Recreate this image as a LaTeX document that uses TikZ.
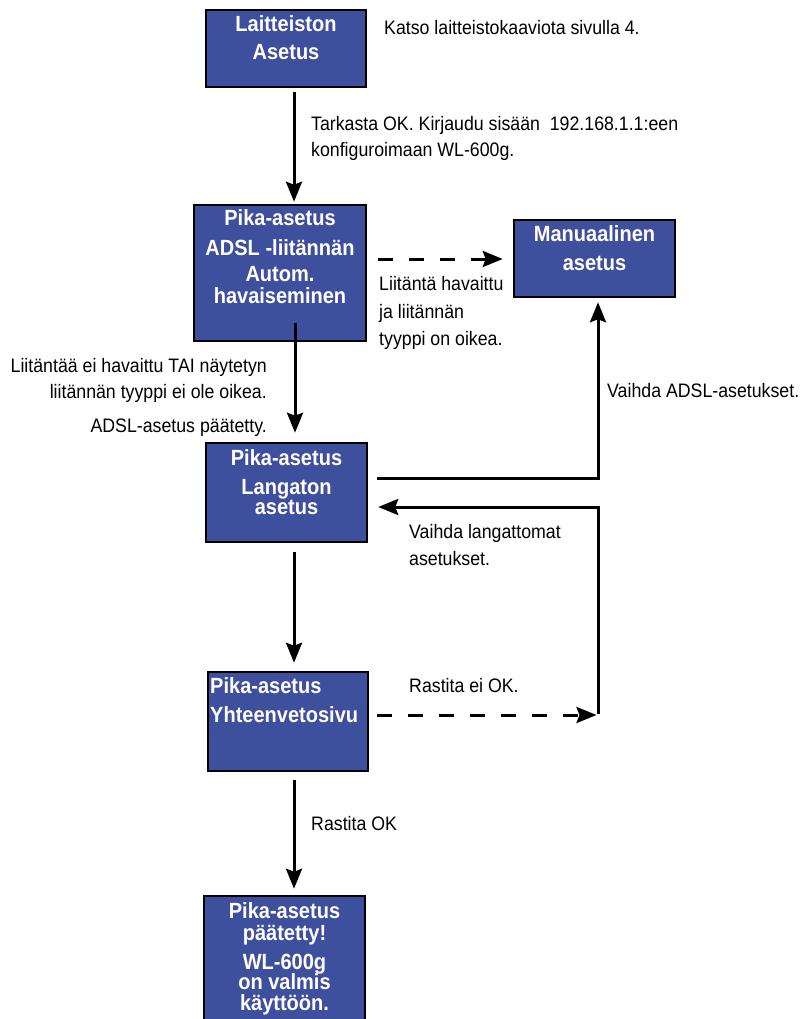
\documentclass[tikz,border=0pt]{standalone}
\usepackage{fontspec}
\setmainfont{Liberation Sans}[FakeStretch=0.91]
\usetikzlibrary{arrows.meta}
\definecolor{boxblue}{RGB}{62,79,158}
\begin{document}
\begin{tikzpicture}[x=1pt,y=-1pt,
  box/.style={draw=black, line width=2.5pt, fill=boxblue, inner sep=0pt},
  boxlbl/.style={text=white, font=\fontsize{22}{26}\selectfont\bfseries, inner sep=0pt, anchor=base},
  note/.style={font=\fontsize{19.5}{26}\selectfont, inner sep=0pt, anchor=base west},
  noter/.style={note, anchor=base east},
  arr/.style={line width=3pt, -{Stealth[length=20pt,width=16pt,inset=3pt]}},
  darr/.style={arr, dash pattern=on 15pt off 16pt},
  plain/.style={line width=3pt}]
\useasboundingbox (0,0) rectangle (804,1019);

% boxes
\node[box, minimum width=160pt, minimum height=77pt] (b1) at (286,48.5) {};
\node[box, minimum width=172pt, minimum height=136pt] (b2) at (280,273) {};
\node[box, minimum width=161pt, minimum height=77pt] (mb) at (594.5,258.5) {};
\node[box, minimum width=161pt, minimum height=99pt] (b3) at (286.5,492.5) {};
\node[box, minimum width=160pt, minimum height=99pt] (b4) at (288,721.5) {};
\node[box, minimum width=161pt, minimum height=140pt] (b5) at (284.5,966) {};

% box labels
\node[boxlbl] (b1a) at (286,32) {Laitteiston};
\node[boxlbl] (b1b) at (286,60) {Asetus};
\node[boxlbl] (b2a) at (280,225) {Pika-asetus};
\node[boxlbl] (b2b) at (280,255) {ADSL -liitännän};
\node[boxlbl] (b2c) at (280,281) {Autom.};
\node[boxlbl] (b2d) at (280,303) {havaiseminen};
\node[boxlbl] (mba) at (594.5,241) {Manuaalinen};
\node[boxlbl] (mbb) at (594.5,270) {asetus};
\node[boxlbl] (b3a) at (286.5,465) {Pika-asetus};
\node[boxlbl] (b3b) at (286.5,494) {Langaton};
\node[boxlbl] (b3c) at (286.5,514) {asetus};
\node[boxlbl, anchor=base west] (b4a) at (210,693) {Pika-asetus};
\node[boxlbl, anchor=base west] (b4b) at (210,722) {Yhteenvetosivu};
\node[boxlbl] (b5a) at (284.5,918) {Pika-asetus};
\node[boxlbl] (b5b) at (284.5,940) {päätetty!};
\node[boxlbl] (b5c) at (284.5,969) {WL-600g};
\node[boxlbl] (b5d) at (284.5,989) {on valmis};
\node[boxlbl] (b5e) at (284.5,1010) {käyttöön.};

% notes
\node[note] (n1) at (384,35) {Katso laitteistokaaviota sivulla 4.};
\node[note] (n2) at (311,131) {Tarkasta OK. Kirjaudu sisään\ \ 192.168.1.1:een};
\node[note] (n3) at (311,157) {konfiguroimaan WL-600g.};
\node[note] (n4) at (379,290) {Liitäntä havaittu};
\node[note] (n5) at (379,318) {ja liitännän};
\node[note] (n6) at (379,345) {tyyppi on oikea.};
\node[noter] (n7) at (267,372) {Liitäntää ei havaittu TAI näytetyn};
\node[noter] (n8) at (267,398) {liitännän tyyppi ei ole oikea.};
\node[noter] (n9) at (267,432) {ADSL-asetus päätetty.};
\node[note] (n10) at (607,397) {Vaihda ADSL-asetukset.};
\node[note] (n11) at (409,538) {Vaihda langattomat};
\node[note] (n12) at (409,565) {asetukset.};
\node[note] (n13) at (409,692) {Rastita ei OK.};
\node[note] (n14) at (311,830) {Rastita OK};

% main flow
\draw[arr] ([xshift=8pt,yshift=-4pt]b1.south) -- ([xshift=14pt,yshift=2pt]b2.north);
\draw[arr, shorten >=9pt] ([xshift=15pt,yshift=19pt]b2.south) -- ([xshift=8.5pt]b3.north);
\draw[arr, shorten >=8pt] ([xshift=7.5pt,yshift=-9pt]b3.south) -- ([xshift=6pt]b4.north);
\draw[arr, shorten >=6pt] ([xshift=6pt,yshift=-8pt]b4.south) -- ([xshift=9.5pt]b5.north);

% side branches
\coordinate (rt) at (598,507);
\coordinate (rb) at (598,714);
\draw[darr] ([xshift=11pt,yshift=14pt]b2.east) -- ([xshift=-10pt,yshift=14pt]b2.east -| mb.west);
\draw[arr, shorten >=4pt] ([xshift=9pt,yshift=14.5pt]b3.east) -| ([xshift=3.5pt]mb.south);
\draw[arr, shorten >=10pt] (rb) -- (rt) -- (rt -| b3.east);
\draw[darr] ([xshift=8pt,yshift=6.5pt]b4.east) -- ([xshift=-1.5pt,yshift=6.5pt]b4.east -| rb);
\end{tikzpicture}
\end{document}
